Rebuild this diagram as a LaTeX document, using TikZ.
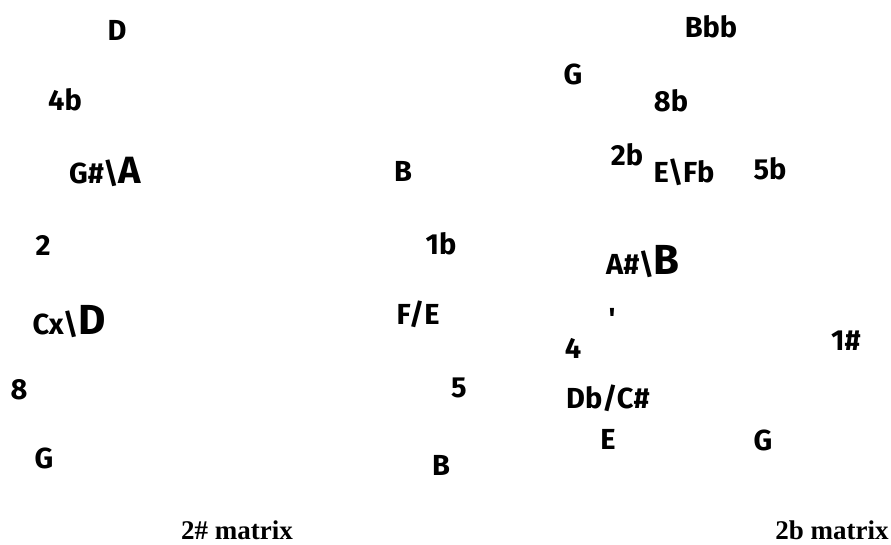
\documentclass[tikz,border=0pt]{standalone}
\usepackage{fontspec}
\setsansfont{Fira Sans}
\setmainfont{Liberation Serif}
\begin{document}
\begin{tikzpicture}[x=1pt,y=-1pt,
  lab/.style={inner sep=0pt,font=\sffamily\bfseries\fontsize{29}{32}\selectfont},
  ttl/.style={inner sep=0pt,font=\rmfamily\bfseries\fontsize{27}{30}\selectfont}]
\useasboundingbox (0,0) rectangle (891,544);
% left matrix
\node[lab] (d)   at (117,30)  {D};
\node[lab] (fb4) at (65,100)  {4b};
\node[lab] (gsa) at (105,172) {G\#\textbackslash{\fontsize{38}{42}\selectfont A}};
\node[lab] (two) at (43,245)  {2};
\node[lab] (cxd) at (69,322)  {Cx\textbackslash{\fontsize{42}{46}\selectfont D}};
\node[lab] (ei)  at (19,390)  {8};
\node[lab] (gl)  at (44,458)  {G};
\node[lab] (b1)  at (403,171) {B};
\node[lab] (ob)  at (441,244) {1b};
\node[lab] (fe)  at (418,314) {F/E};
\node[lab] (fi)  at (459,388) {5};
\node[lab] (b2)  at (441,465) {B};
% right matrix
\node[lab] (bbb) at (711,27)  {Bbb};
\node[lab] (gr)  at (573,74)  {G};
\node[lab] (eb)  at (671,101) {8b};
\node[lab] (tb)  at (627,155) {2b};
\node[lab] (efb) at (684,172) {E\textbackslash Fb};
\node[lab] (fvb) at (770,169) {5b};
\node[lab] (asb) at (643,262) {A\#\textbackslash{\fontsize{42}{46}\selectfont B}};
\node[lab] (mk)  at (612,318) {\textquotesingle};
\node[lab] (fo)  at (573,348) {4};
\node[lab] (os)  at (846,341) {1\#};
\node[lab] (dbc) at (608,398) {Db/C\#};
\node[lab] (er)  at (608,439) {E};
\node[lab] (gr2) at (763,440) {G};
% titles
\node[ttl] (t1) at (237,530) {2\# matrix};
\node[ttl] (t2) at (832,530) {2b matrix};
\end{tikzpicture}
\end{document}
